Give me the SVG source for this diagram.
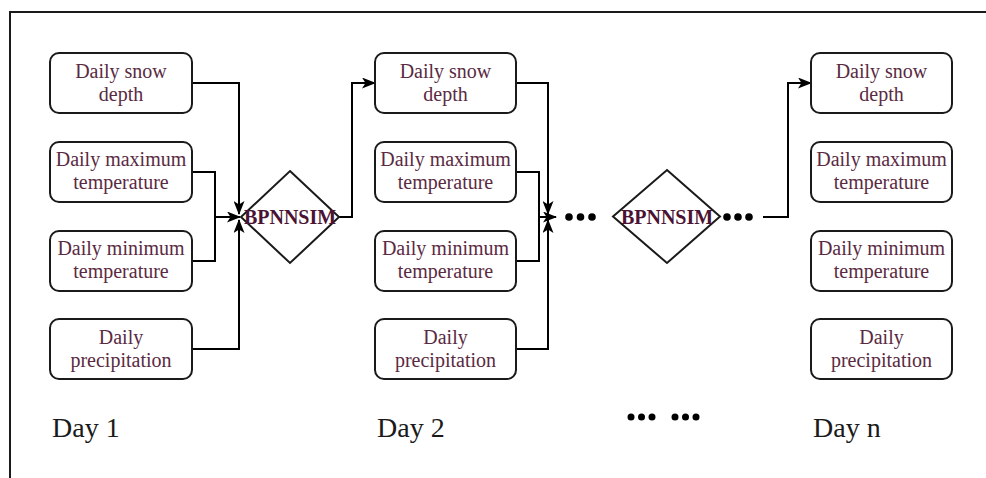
<svg xmlns="http://www.w3.org/2000/svg" width="986" height="478" viewBox="0 0 986 478">
<style>
.box{fill:#fff;stroke:#1a1a1a;stroke-width:2}
.t{font-family:"Liberation Serif","Times New Roman",serif;font-size:20px;fill:#5a2a42;text-anchor:middle}
.d{fill:#fff;stroke:#1a1a1a;stroke-width:2}
.dt{font-family:"Liberation Serif","Times New Roman",serif;font-size:20px;font-weight:bold;fill:#4a1233;text-anchor:middle}
.day{font-family:"Liberation Serif","Times New Roman",serif;font-size:28px;fill:#1a1a1a}
.c{fill:none;stroke:#000;stroke-width:2}
.dot{fill:#000}
</style>
<defs>
<marker id="ar" viewBox="0 0 14 11" refX="13" refY="5.5" markerWidth="14" markerHeight="11" markerUnits="userSpaceOnUse" orient="auto">
<path d="M0,0 L14,5.5 L0,11 L3.5,5.5 Z" fill="#000"/>
</marker>
</defs>
<g id="frame"><path d="M10,478 V12 H986" fill="none" stroke="#1a1a1a" stroke-width="2"/></g>

<g id="connectors">
<path class="c" d="M192,83 H239 V214" marker-end="url(#ar)"/>
<path class="c" d="M192,172 H215 V217 H240" marker-end="url(#ar)"/>
<path class="c" d="M192,261 H215 V217"/>
<path class="c" d="M192,349 H239 V220" marker-end="url(#ar)"/>
<path class="c" d="M339,217 H352 V83 H375" marker-end="url(#ar)"/>
<path class="c" d="M516,83 H548 V214" marker-end="url(#ar)"/>
<path class="c" d="M516,172 H539 V217 H556" marker-end="url(#ar)"/>
<path class="c" d="M516,261 H539 V217"/>
<path class="c" d="M516,349 H548 V220" marker-end="url(#ar)"/>
<path class="c" d="M763,217 H788 V83 H811" marker-end="url(#ar)"/>
<circle class="dot" cx="569" cy="217" r="3.8"/>
<circle class="dot" cx="580.5" cy="217" r="3.8"/>
<circle class="dot" cx="592" cy="217" r="3.8"/>
<circle class="dot" cx="727" cy="217" r="3.8"/>
<circle class="dot" cx="738" cy="217" r="3.8"/>
<circle class="dot" cx="749" cy="217" r="3.8"/>
</g>

<g id="d1-snow"><rect class="box" x="50" y="53" width="142" height="60" rx="9"/><text class="t" x="121" y="78">Daily snow</text><text class="t" x="121" y="101">depth</text></g>
<g id="d1-tmax"><rect class="box" x="50" y="142" width="142" height="60" rx="9"/><text class="t" x="121" y="166">Daily maximum</text><text class="t" x="121" y="189">temperature</text></g>
<g id="d1-tmin"><rect class="box" x="50" y="231" width="142" height="60" rx="9"/><text class="t" x="121" y="255">Daily minimum</text><text class="t" x="121" y="278">temperature</text></g>
<g id="d1-prec"><rect class="box" x="50" y="319" width="142" height="60" rx="9"/><text class="t" x="121" y="344">Daily</text><text class="t" x="121" y="367">precipitation</text></g>

<g id="bpnn1"><polygon class="d" points="290,171 339,217 290,263 241,217"/><text class="dt" x="290" y="224">BPNNSIM</text></g>

<g id="d2-snow"><rect class="box" x="375" y="53" width="141" height="60" rx="9"/><text class="t" x="445.5" y="78">Daily snow</text><text class="t" x="445.5" y="101">depth</text></g>
<g id="d2-tmax"><rect class="box" x="375" y="142" width="141" height="60" rx="9"/><text class="t" x="445.5" y="166">Daily maximum</text><text class="t" x="445.5" y="189">temperature</text></g>
<g id="d2-tmin"><rect class="box" x="375" y="231" width="141" height="60" rx="9"/><text class="t" x="445.5" y="255">Daily minimum</text><text class="t" x="445.5" y="278">temperature</text></g>
<g id="d2-prec"><rect class="box" x="375" y="319" width="141" height="60" rx="9"/><text class="t" x="445.5" y="344">Daily</text><text class="t" x="445.5" y="367">precipitation</text></g>

<g id="bpnn2"><polygon class="d" points="667,170 720,216.5 667,263 613,216.5"/><text class="dt" x="667" y="224">BPNNSIM</text></g>

<g id="dn-snow"><rect class="box" x="811" y="53" width="141" height="60" rx="9"/><text class="t" x="881.5" y="78">Daily snow</text><text class="t" x="881.5" y="101">depth</text></g>
<g id="dn-tmax"><rect class="box" x="811" y="142" width="141" height="60" rx="9"/><text class="t" x="881.5" y="166">Daily maximum</text><text class="t" x="881.5" y="189">temperature</text></g>
<g id="dn-tmin"><rect class="box" x="811" y="231" width="141" height="60" rx="9"/><text class="t" x="881.5" y="255">Daily minimum</text><text class="t" x="881.5" y="278">temperature</text></g>
<g id="dn-prec"><rect class="box" x="811" y="319" width="141" height="60" rx="9"/><text class="t" x="881.5" y="344">Daily</text><text class="t" x="881.5" y="367">precipitation</text></g>

<g id="labels">
<text class="day" x="52" y="437">Day 1</text>
<text class="day" x="377" y="437">Day 2</text>
<text class="day" x="813" y="437">Day n</text>
<circle class="dot" cx="631" cy="417" r="3.5"/>
<circle class="dot" cx="641.5" cy="417" r="3.5"/>
<circle class="dot" cx="652" cy="417" r="3.5"/>
<circle class="dot" cx="675" cy="417" r="3.5"/>
<circle class="dot" cx="685.5" cy="417" r="3.5"/>
<circle class="dot" cx="696" cy="417" r="3.5"/>
</g>
</svg>
